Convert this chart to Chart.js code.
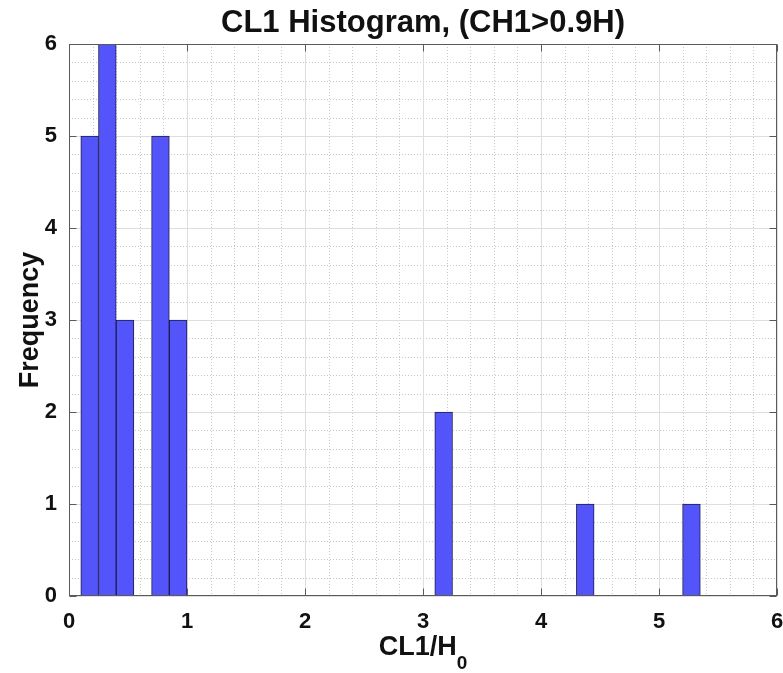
<!DOCTYPE html>
<html>
<head>
<meta charset="utf-8">
<script src="https://cdn.jsdelivr.net/npm/chart.js@4.4.1/dist/chart.umd.min.js"></script>
<style>
  html, body { margin: 0; padding: 0; background: #fff; }
</style>
</head>
<body>
<canvas id="hist" width="783" height="673"></canvas>
<script>
// histogram bins (centres, bin width 0.15) and their counts
const binCenters = [0.175, 0.325, 0.475, 0.775, 0.925, 3.175, 4.375, 5.275];
const counts = [5, 6, 3, 5, 3, 2, 1, 1];
const xTicks = [0, 1, 2, 3, 4, 5, 6];
const yTicks = [0, 1, 2, 3, 4, 5, 6];

const FONT = "'Liberation Sans', Arial, Helvetica, sans-serif";
const AXIS = '#5a5a5a';

// grid, box, inward ticks and the labels MATLAB style
const frame = {
  id: 'frame',
  beforeDatasetsDraw(chart) {
    const { ctx, chartArea: a, scales: { x, y } } = chart;
    ctx.save();
    ctx.lineWidth = 1;
    // minor dotted grid every 0.2
    ctx.strokeStyle = '#c8c8c8';
    ctx.setLineDash([1, 2]);
    for (let i = 1; i < 30; i++) {
      if (i % 5 === 0) continue;
      const px = Math.round(x.getPixelForValue(i / 5)) + 0.5;
      ctx.beginPath(); ctx.moveTo(px, a.top); ctx.lineTo(px, a.bottom); ctx.stroke();
      const py = Math.round(y.getPixelForValue(i / 5)) + 0.5;
      ctx.beginPath(); ctx.moveTo(a.left, py); ctx.lineTo(a.right, py); ctx.stroke();
    }
    // major grid
    ctx.setLineDash([]);
    ctx.strokeStyle = '#dedede';
    xTicks.forEach(v => {
      const px = Math.round(x.getPixelForValue(v)) + 0.5;
      ctx.beginPath(); ctx.moveTo(px, a.top); ctx.lineTo(px, a.bottom); ctx.stroke();
    });
    yTicks.forEach(v => {
      const py = Math.round(y.getPixelForValue(v)) + 0.5;
      ctx.beginPath(); ctx.moveTo(a.left, py); ctx.lineTo(a.right, py); ctx.stroke();
    });
    ctx.restore();
  },
  afterDatasetsDraw(chart) {
    const { ctx, chartArea: a, scales: { x, y } } = chart;
    const L = Math.round(a.left) + 0.5, R = Math.round(a.right) - 0.5;
    const T = Math.round(a.top) + 0.5, B = Math.round(a.bottom) - 0.5;
    ctx.save();
    ctx.strokeStyle = AXIS;
    ctx.lineWidth = 1;
    ctx.strokeRect(L, T, R - L, B - T);
    const tl = 7;
    xTicks.forEach(v => {
      const px = Math.round(x.getPixelForValue(v)) + 0.5;
      ctx.beginPath();
      ctx.moveTo(px, B); ctx.lineTo(px, B - tl);
      ctx.moveTo(px, T); ctx.lineTo(px, T + tl);
      ctx.stroke();
    });
    yTicks.forEach(v => {
      const py = Math.round(y.getPixelForValue(v)) + 0.5;
      ctx.beginPath();
      ctx.moveTo(L, py); ctx.lineTo(L + tl, py);
      ctx.moveTo(R, py); ctx.lineTo(R - tl, py);
      ctx.stroke();
    });

    // title
    const cx = (a.left + a.right) / 2;
    ctx.fillStyle = '#111';
    ctx.textAlign = 'center';
    ctx.textBaseline = 'alphabetic';
    ctx.font = 'bold 31px ' + FONT;
    ctx.fillText('CL1 Histogram, (CH1>0.9H)', cx, 32);

    // x label with subscript
    ctx.font = 'bold 27px ' + FONT;
    const main = 'CL1/H';
    const wMain = ctx.measureText(main).width;
    ctx.font = 'bold 19px ' + FONT;
    const wSub = ctx.measureText('0').width;
    const x0 = cx - (wMain + wSub) / 2;
    ctx.textAlign = 'left';
    ctx.font = 'bold 27px ' + FONT;
    ctx.fillText(main, x0, 655);
    ctx.font = 'bold 19px ' + FONT;
    ctx.fillText('0', x0 + wMain, 669);

    // y label
    ctx.translate(38, (a.top + a.bottom) / 2);
    ctx.rotate(-Math.PI / 2);
    ctx.textAlign = 'center';
    ctx.font = 'bold 27px ' + FONT;
    ctx.fillText('Frequency', 0, 0);
    ctx.restore();
  }
};

new Chart(document.getElementById('hist'), {
  type: 'bar',
  data: {
    datasets: [{
      label: 'CL1',
      data: binCenters.map((c, i) => ({ x: c, y: counts[i] })),
      backgroundColor: '#5454fb',
      borderColor: '#1c1c4a',
      borderWidth: 1,
      borderSkipped: 'start',
      barPercentage: 1,
      categoryPercentage: 1
    }]
  },
  options: {
    responsive: false,
    animation: false,
    layout: { padding: { left: 0, right: 6, top: 44, bottom: 0 } },
    plugins: {
      legend: { display: false },
      tooltip: { enabled: false },
      title: { display: false }
    },
    scales: {
      x: {
        type: 'linear',
        min: 0,
        max: 6,
        offset: false,
        grid: { display: false, drawTicks: false },
        border: { display: false },
        ticks: {
          stepSize: 1,
          padding: 13,
          color: '#111',
          maxRotation: 0,
          font: { family: FONT, size: 22, weight: 'bold' }
        },
        afterFit(s) { s.height = 77; s.paddingLeft = 0; s.paddingRight = 0; }
      },
      y: {
        min: 0,
        max: 6,
        grid: { display: false, drawTicks: false },
        border: { display: false },
        ticks: {
          stepSize: 1,
          padding: 12,
          color: '#111',
          font: { family: FONT, size: 22, weight: 'bold' }
        },
        afterFit(s) { s.width = 69; s.paddingTop = 0; s.paddingBottom = 0; }
      }
    }
  },
  plugins: [frame]
});
</script>
</body>
</html>
